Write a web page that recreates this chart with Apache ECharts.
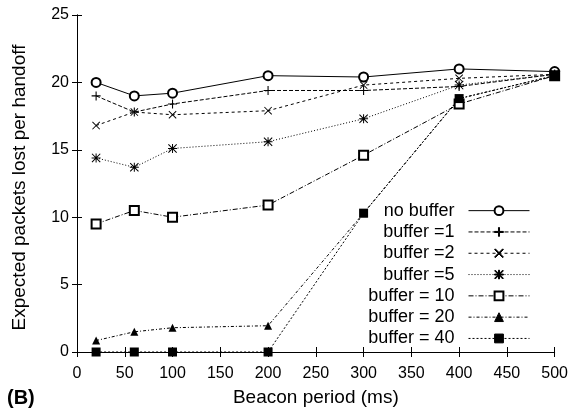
<!DOCTYPE html>
<html>
<head>
<meta charset="utf-8">
<script src="https://cdn.jsdelivr.net/npm/echarts@6/dist/echarts.min.js"></script>
<style>
  html, body { margin: 0; padding: 0; background: #fff; }
  #chart { width: 571px; height: 412px; }
</style>
</head>
<body>
<div id="chart"></div>
<script>
// beacon period (ms)
var periods = [20, 60, 100, 200, 300, 400, 500];

// expected packets lost per handoff, one array per buffer size
var noBuffer = [20.0, 19.0, 19.2, 20.5, 20.4, 21.0, 20.8];
var buffer1  = [19.0, 17.8, 18.4, 19.4, 19.4, 19.7, 20.6];
var buffer2  = [16.8, 17.8, 17.6, 17.9, 19.8, 20.3, 20.6];
var buffer5  = [14.4, 13.7, 15.1, 15.6, 17.3, 19.8, 20.6];
var buffer10 = [9.5, 10.5, 10.0, 10.9, 14.6, 18.4, 20.5];
var buffer20 = [0.85, 1.5, 1.8, 1.95, 10.3, 18.8, 20.5];
var buffer40 = [0, 0, 0, 0, 10.3, 18.8, 20.5];

var seriesNames = ['no buffer', 'buffer =1', 'buffer =2', 'buffer =5',
                   'buffer = 10', 'buffer = 20', 'buffer = 40'];
var seriesValues = [noBuffer, buffer1, buffer2, buffer5, buffer10, buffer20, buffer40];

// gnuplot-like point shapes
var PLUS = 'path://M4.4,0H5.6V4.4H10V5.6H5.6V10H4.4V5.6H0V4.4H4.4Z';
var CROSS = 'path://M0,0.8L0.8,0L10,9.2L9.2,10ZM9.2,0L10,0.8L0.8,10L0,9.2Z';
var STAR = 'path://M0,0.8L0.8,0L10,9.2L9.2,10ZM9.2,0L10,0.8L0.8,10L0,9.2Z' +
           'M4.45,0H5.55V4.45H10V5.55H5.55V10H4.45V5.55H0V4.45H4.45Z';

var styles = [
  { symbol: 'emptyCircle', size: 9, dash: 'solid' },
  { symbol: PLUS, size: 9, dash: [4, 2] },
  { symbol: CROSS, size: 8, dash: [3, 3] },
  { symbol: STAR, size: 9, dash: [1, 2] },
  { symbol: 'emptyRect', size: 9, dash: [5, 2, 1, 2] },
  { symbol: 'triangle', size: 8, dash: [3, 2, 1, 2] },
  { symbol: 'rect', size: 9, dash: [2, 2] }
];

var FONT = 'Liberation Sans, Arial, sans-serif';

var chart = echarts.init(document.getElementById('chart'), null, { renderer: 'canvas' });

var series = seriesNames.map(function (name, i) {
  var st = styles[i];
  var empty = st.symbol.indexOf('empty') === 0;
  return {
    name: name,
    type: 'line',
    data: periods.map(function (p, j) { return [p, seriesValues[i][j]]; }),
    symbol: st.symbol,
    symbolSize: st.size,
    showAllSymbol: true,
    lineStyle: { color: '#000', width: 1, type: st.dash },
    itemStyle: { color: '#000', borderColor: '#000', borderWidth: empty ? 1 : 0 },
    emphasis: { disabled: true },
    z: 2 + i
  };
});

var tickFont = { fontFamily: FONT, fontSize: 16, color: '#000' };

var option = {
  animation: false,
  backgroundColor: '#fff',
  grid: { left: 77, right: 16, top: 15, bottom: 60 },
  xAxis: [{
    type: 'value', min: 0, max: 500, interval: 50,
    name: 'Beacon period (ms)', nameLocation: 'middle', nameGap: 36,
    nameTextStyle: { fontFamily: FONT, fontSize: 19, color: '#000' },
    axisLine: { lineStyle: { color: '#000', width: 1 } },
    axisTick: { inside: true, length: 5, lineStyle: { color: '#000' } },
    axisLabel: Object.assign({ margin: 14 }, tickFont),
    splitLine: { show: false }
  }, {
    type: 'value', min: 0, max: 500, interval: 50, position: 'top',
    axisLine: { lineStyle: { color: '#000', width: 1 } },
    axisTick: { inside: true, length: 5, lineStyle: { color: '#000' } },
    axisLabel: { show: false },
    splitLine: { show: false }
  }],
  yAxis: [{
    type: 'value', min: 0, max: 25, interval: 5,
    name: 'Expected packets lost per handoff', nameLocation: 'middle', nameGap: 48,
    nameTextStyle: { fontFamily: FONT, fontSize: 19, color: '#000', padding: [0, 8, 0, 0] },
    axisLine: { show: true, lineStyle: { color: '#000', width: 1 } },
    axisTick: { show: true, inside: true, length: 5, lineStyle: { color: '#000' } },
    axisLabel: Object.assign({ margin: 8 }, tickFont),
    splitLine: { show: false }
  }, {
    type: 'value', min: 0, max: 25, interval: 5, position: 'right',
    axisLine: { show: true, lineStyle: { color: '#000', width: 1 } },
    axisTick: { show: true, inside: true, length: 5, lineStyle: { color: '#000' } },
    axisLabel: { show: false },
    splitLine: { show: false }
  }],
  legend: {
    orient: 'vertical',
    align: 'right',
    right: 36,
    top: 195,
    itemWidth: 61,
    itemHeight: 11,
    itemGap: 0,
    selectedMode: false,
    lineStyle: { width: 1 },
    itemStyle: { borderWidth: 1 },
    textStyle: {
      fontFamily: FONT,
      fontSize: 18, color: '#000', lineHeight: 21.3,
      padding: [0, 9, 0, 0]
    },
    data: seriesNames
  },
  graphic: [{
    type: 'text', left: 7, top: 388,
    style: { text: '(B)', fontFamily: FONT, fontSize: 20, fontWeight: 'bold', fill: '#000' }
  }],
  series: series
};

chart.setOption(option);
</script>
</body>
</html>
